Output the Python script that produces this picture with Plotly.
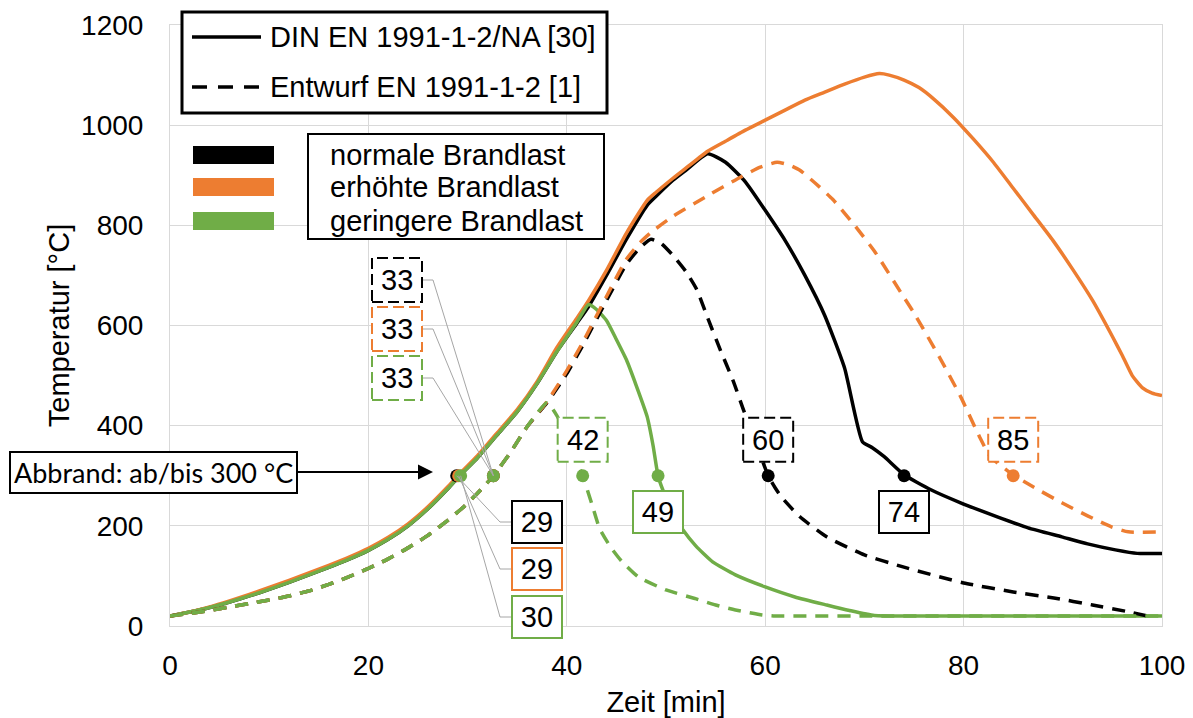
import plotly.graph_objects as go

# ---------------- data ----------------
# DIN EN 1991-1-2/NA [30]  (solid lines)
din_normal_t = [0, 2, 4, 6, 8, 10, 12, 14, 16, 18, 20, 22, 24, 26, 28, 29.2, 31, 33, 35, 37,
                39, 41, 42.2, 44, 46, 48.1, 49, 50.7, 52, 54.2, 56, 58, 60, 62, 64, 66, 68, 69.8, 70.8, 72,
                74, 76.7, 79.7, 83.4, 86.5, 89.9, 92.5, 95.3, 97.5, 100]
din_normal_T = [20, 28, 37, 48, 60, 73, 87, 102, 117, 133, 151, 173, 200, 234, 274, 300, 336, 382, 428, 484,
                548, 604, 638, 700, 772, 840, 858, 890, 910, 943, 926, 887, 830, 770, 700, 620, 515, 368, 356, 338,
                302, 272, 246, 218, 196, 178, 164, 152, 145, 145]

din_hoch_t = [0, 2, 4, 6, 8, 10, 12, 14, 16, 18, 20, 22, 24, 26, 28, 29.2, 31, 33, 35, 37,
              39, 41, 42.2, 44, 46, 48.1, 49, 50.7, 52, 54.2, 56, 58, 60, 62, 64, 66, 68, 70, 71.5, 72.5,
              74, 75.5, 77, 79, 81, 83, 85, 87, 89, 91, 93, 95, 96, 97, 98, 99, 100]
din_hoch_T = [20, 28, 38, 50, 63, 77, 91, 106, 121, 137, 155, 177, 204, 238, 278, 304, 340, 386, 432, 488,
              556, 614, 650, 710, 784, 850, 866, 894, 914, 948, 968, 990, 1010, 1030, 1050, 1066, 1082, 1096, 1103, 1100,
              1090, 1075, 1052, 1015, 972, 926, 874, 822, 770, 712, 650, 578, 540, 500, 476, 465, 460]

din_gering_t = [0, 2, 4, 6, 8, 10, 12, 14, 16, 18, 20, 22, 24, 26, 28, 29.2, 31, 33, 35, 37,
                39, 41, 42.2, 43, 44, 45, 46, 47, 48.1, 48.7, 49.2, 50, 51, 51.7, 53, 54.7, 57, 60, 63, 66.2,
                68.5, 71, 75, 80, 90, 100]
din_gering_T = [20, 28, 37, 48, 60, 73, 87, 102, 117, 133, 151, 173, 200, 234, 274, 300, 336, 382, 428, 484,
                548, 606, 642, 632, 610, 572, 532, 480, 418, 360, 300, 256, 215, 192, 160, 128, 102, 78, 58, 42,
                31, 21, 20, 20, 20, 20]

# Entwurf EN 1991-1-2 [1]  (dashed lines)
ent_normal_t = [0, 2, 4, 6, 8, 10, 12, 14, 16, 18, 20, 22, 24, 26, 28, 29.5, 31, 32.6, 34.3, 36,
                38, 39, 40, 41.6, 44, 46, 47.4, 48.5, 49.5, 50.7, 52, 53.1, 54.3, 55.5, 56.8, 57.8, 59, 60.3, 61, 61.7,
                63.5, 66.2, 70, 73.9, 80, 85, 89.1, 93, 96.7, 99]
ent_normal_T = [20, 25, 31, 38, 45, 52, 60, 70, 83, 98, 115, 134, 156, 181, 211, 236, 265, 300, 346, 398,
                446, 474, 504, 560, 650, 722, 756, 772, 764, 740, 708, 672, 610, 550, 488, 432, 370, 300, 276, 256,
                218, 178, 142, 118, 86, 68, 56, 42, 28, 18]

ent_hoch_t = [0, 2, 4, 6, 8, 10, 12, 14, 16, 18, 20, 22, 24, 26, 28, 29.5, 31, 32.6, 34.3, 36,
              38, 39, 40, 41.6, 44, 46, 47.4, 48.5, 50.7, 54.1, 57.5, 59.5, 61.2, 62.5, 63.5, 65, 66.8, 69.1, 71.1, 73.8,
              75, 77.7, 79.7, 81.6, 82.7, 85, 87, 89.9, 92.5, 94.9, 96.6, 100]
ent_hoch_T = [20, 25, 31, 38, 45, 52, 60, 70, 83, 98, 115, 134, 156, 181, 211, 236, 265, 300, 346, 398,
              448, 478, 510, 566, 658, 732, 766, 786, 818, 858, 896, 916, 926, 920, 910, 885, 852, 798, 746, 662,
              625, 532, 458, 378, 338, 302, 278, 246, 220, 198, 188, 188]

ent_gering_t = [0, 2, 4, 6, 8, 10, 12, 14, 16, 18, 20, 22, 24, 26, 28, 29.5, 31, 32.6, 34.3, 36,
                38, 39, 40, 41, 41.6, 42.5, 43.3, 44.4, 45.5, 47.2, 50, 52.9, 55, 57, 59.7, 61, 65, 70, 80, 90, 100]
ent_gering_T = [20, 25, 31, 38, 45, 52, 60, 70, 83, 98, 115, 134, 156, 181, 211, 236, 265, 300, 346, 398,
                446, 420, 380, 330, 300, 245, 195, 158, 130, 98, 72, 55, 42, 32, 22, 20, 20, 20, 20, 20, 20]

# 300 °C threshold crossings (order: normale, erhöhte, geringere Brandlast)
threshold_T = 300
din_start_t = [28.9, 29.1, 29.3]
din_start_lbl = ["29", "29", "30"]
ent_start_t = [32.6, 32.6, 32.6]
ent_start_lbl = ["33", "33", "33"]
din_end_t = [74.0, 49.2]          # normale, geringere
din_end_lbl = ["74", "49"]
ent_end_t = [60.3, 85.0, 41.6]    # normale, erhöhte, geringere
ent_end_lbl = ["60", "85", "42"]

legend_lines = ["DIN EN 1991-1-2/NA [30]", "Entwurf EN 1991-1-2 [1]"]
legend_loads = ["normale Brandlast", "erhöhte Brandlast", "geringere Brandlast"]
x_title = "Zeit [min]"
y_title = "Temperatur [°C]"
note_text = "Abbrand: ab/bis 300 °C"

# ---------------- styling ----------------
BLACK, ORANGE, GREEN = "#000000", "#ED7D31", "#70AD47"
COLS = [BLACK, ORANGE, GREEN]
FONT = "Liberation Sans, Arial, sans-serif"
GRID = "#D9D9D9"
LEADER = "#A6A6A6"
DASH = "13px,9px"

W, H = 1193, 718
PL, PR, PT, PB = 170, 1162, 25, 626
XMAX, YMAX = 100, 1200

def t_of(px):
    return (px - PL) / (PR - PL) * XMAX

def T_of(py):
    return (PB - py) / (PB - PT) * YMAX

def xp(px):
    return (px - PL) / (PR - PL)

def yp(py):
    return (PB - py) / (PB - PT)

fig = go.Figure()

def add_line(t, T, color, dash):
    fig.add_trace(go.Scatter(x=t, y=T, mode="lines",
                             line=dict(color=color, width=3.5, dash=dash, shape="spline", smoothing=0.5),
                             showlegend=False, hoverinfo="skip"))

add_line(din_normal_t, din_normal_T, BLACK, "solid")
add_line(din_hoch_t, din_hoch_T, ORANGE, "solid")
add_line(din_gering_t, din_gering_T, GREEN, "solid")
add_line(ent_normal_t, ent_normal_T, BLACK, DASH)
add_line(ent_hoch_t, ent_hoch_T, ORANGE, DASH)
add_line(ent_gering_t, ent_gering_T, GREEN, DASH)

def add_marks(ts, cols):
    for t, c in zip(ts, cols):
        fig.add_trace(go.Scatter(x=[t], y=[threshold_T], mode="markers",
                                 marker=dict(color=c, size=13, line=dict(width=0)),
                                 showlegend=False, hoverinfo="skip"))

add_marks(din_start_t, COLS)
add_marks(ent_start_t, COLS)
add_marks(din_end_t, [BLACK, GREEN])
add_marks(ent_end_t, COLS)

LBL_FONT = dict(family=FONT, size=29, color="black")

def solid_box(x, y, txt, col, yshift=0):
    fig.add_annotation(x=x, y=y, yshift=yshift, text=txt, showarrow=False, font=LBL_FONT,
                       bgcolor="white", bordercolor=col, borderwidth=2, borderpad=2,
                       width=44, height=36)

def dashed_box(x, y, txt, col, dy=0):
    fig.add_shape(type="rect", xref="x", yref="y", xsizemode="pixel", ysizemode="pixel",
                  xanchor=x, yanchor=y, x0=-25, x1=25, y0=dy - 22, y1=dy + 22,
                  line=dict(color=col, width=2, dash="11px,5px"), fillcolor="white", layer="above")
    fig.add_annotation(x=x, y=y, yshift=dy, text=txt, showarrow=False, font=LBL_FONT)

def leader(pts):
    path = "M " + " L ".join(f"{a},{b}" for a, b in pts)
    fig.add_shape(type="path", xref="x", yref="y", path=path,
                  line=dict(color=LEADER, width=1), layer="above")

# start labels of the DIN curves (boxes at lower right, with leader lines)
din_box_py = [522, 569, 617]
for t, lbl, col, py in zip(din_start_t, din_start_lbl, COLS, din_box_py):
    leader([(t, threshold_T), (t_of(500), T_of(py)), (t_of(512), T_of(py))])
    solid_box(t_of(537), T_of(py), lbl, col)

# start labels of the Entwurf curves (dashed boxes at upper left)
ent_box_py = [280, 329, 378]
for t, lbl, col, py in zip(ent_start_t, ent_start_lbl, COLS, ent_box_py):
    leader([(t_of(422), T_of(py)), (t_of(433), T_of(py)), (t, threshold_T)])
    dashed_box(t_of(397), T_of(py), lbl, col)

# end labels
for t, lbl, col in zip(din_end_t, din_end_lbl, [BLACK, GREEN]):
    solid_box(t, threshold_T, lbl, col, yshift=-36)
for t, lbl, col in zip(ent_end_t, ent_end_lbl, COLS):
    dashed_box(t, threshold_T, lbl, col, dy=36)

# "Abbrand" call-out with arrow
fig.add_annotation(x=t_of(433), y=T_of(472), ax=-280, ay=0, axref="pixel", ayref="pixel",
                   text=note_text, showarrow=True, arrowhead=2, arrowsize=1.5, arrowwidth=2,
                   arrowcolor="black", standoff=0,
                   font=dict(family="Lato, Carlito, sans-serif", size=27, color="black"),
                   bgcolor="white", bordercolor="black", borderwidth=2, borderpad=3)

# ---------------- custom legends ----------------
fig.add_shape(type="rect", xref="paper", yref="paper", x0=xp(182), x1=xp(607), y0=yp(113), y1=yp(12),
              line=dict(color="black", width=3), fillcolor="white", layer="above")
fig.add_shape(type="line", xref="paper", yref="paper", x0=xp(192), x1=xp(261), y0=yp(37), y1=yp(37),
              line=dict(color="black", width=3.5), layer="above")
fig.add_shape(type="line", xref="paper", yref="paper", x0=xp(192), x1=xp(262), y0=yp(87), y1=yp(87),
              line=dict(color="black", width=3.5, dash="15px,11px"), layer="above")
for txt, py in zip(legend_lines, [37, 87]):
    fig.add_annotation(x=xp(268), y=yp(py), xref="paper", yref="paper", xanchor="left", yanchor="middle",
                       text=txt, showarrow=False, font=LBL_FONT)

fig.add_shape(type="rect", xref="paper", yref="paper", x0=xp(308), x1=xp(604), y0=yp(239), y1=yp(134),
              line=dict(color="black", width=2), fillcolor="white", layer="above")
for txt, col, py in zip(legend_loads, COLS, [155, 187, 221]):
    fig.add_shape(type="rect", xref="paper", yref="paper", x0=xp(193), x1=xp(274),
                  y0=yp(py + 9), y1=yp(py - 9), line=dict(width=0), fillcolor=col, layer="above")
    fig.add_annotation(x=xp(328), y=yp(py), xref="paper", yref="paper", xanchor="left", yanchor="middle",
                       text=txt, showarrow=False, font=LBL_FONT)

AX = dict(showgrid=True, gridcolor=GRID, gridwidth=1, zeroline=False, showline=True,
          linecolor=GRID, linewidth=1, mirror=True, ticks="", automargin=False,
          tickfont=dict(family=FONT, size=28, color="black"))

fig.update_layout(
    width=W, height=H,
    margin=dict(l=PL, r=W - PR, t=PT, b=H - PB, pad=0, autoexpand=False),
    paper_bgcolor="white", plot_bgcolor="white",
    showlegend=False,
    xaxis=dict(range=[0, XMAX], tick0=0, dtick=20, ticklabelstandoff=14,
               title=dict(text=x_title, font=dict(family=FONT, size=29, color="black"), standoff=14), **AX),
    yaxis=dict(range=[0, YMAX], tick0=0, dtick=200, ticklabelstandoff=20,
               title=dict(text=y_title, font=dict(family=FONT, size=29, color="black"), standoff=2), **AX),
)

fig.write_html("out.html")
